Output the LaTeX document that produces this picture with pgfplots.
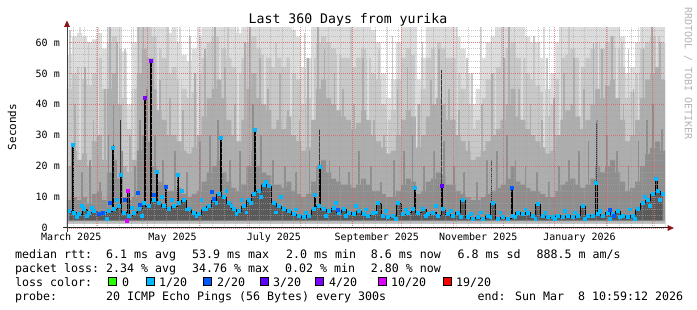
\documentclass[border=0pt]{standalone}
\usepackage{fontspec}
\setmainfont{DejaVu Sans Mono}
\usepackage{pgfplots}
\usepackage{pgfplotstable}
\pgfplotsset{compat=1.18}
\definecolor{skA}{RGB}{220,220,220}
\definecolor{skB}{RGB}{200,200,200}
\definecolor{skC}{RGB}{174,174,174}
\definecolor{skD}{RGB}{142,142,142}
\definecolor{skE}{RGB}{90,90,90}
\definecolor{skK}{RGB}{55,55,55}
\definecolor{skF}{RGB}{190,190,190}
\definecolor{l0}{HTML}{26FF00}
\definecolor{l1}{HTML}{00B8FF}
\definecolor{l2}{HTML}{0059FF}
\definecolor{l3}{HTML}{5E00FF}
\definecolor{l4}{HTML}{7E00FF}
\definecolor{l10}{HTML}{DD00FF}
\definecolor{l19}{HTML}{FF0000}
\definecolor{arr}{RGB}{140,20,20}
\definecolor{wm}{RGB}{180,180,180}

\pgfplotstableread{
x t l m d
0 56 45 20 9
3 62 50 25 10
6 63 52 22 9
9 62 48 24 10
12 60 46 20 8
15 61 50 28 11
18 63 55 30 12
21 58 45 22 9
24 65 60 45 18
27 65 62 50 22
30 65 58 40 16
33 57 42 20 10
36 40 32 18 9
39 60 45 22 10
42 65 65 50 25
45 65 65 58 30
48 65 65 55 28
51 65 62 45 20
54 65 58 38 15
57 65 55 35 14
60 63 50 30 12
63 65 52 30 12
66 60 48 28 13
69 56 45 25 11
72 54 42 24 10
75 58 44 26 11
78 62 50 30 12
81 65 55 36 15
84 65 60 42 18
87 65 62 45 20
90 65 62 48 22
93 65 58 42 18
96 65 55 35 15
99 65 52 30 13
102 63 50 28 12
105 65 55 35 14
108 65 60 45 20
111 65 62 50 25
114 65 58 42 20
117 65 56 40 18
120 65 55 38 17
123 65 52 32 14
126 65 55 35 14
129 65 52 32 13
132 65 55 36 15
135 64 50 30 12
138 62 48 28 11
141 52 40 25 10
144 55 42 26 11
147 65 55 35 15
150 65 60 45 20
153 65 62 48 22
156 65 60 42 18
159 65 58 40 16
162 65 56 38 15
165 65 55 36 14
168 65 55 35 14
171 65 52 32 13
174 65 55 34 14
177 65 58 38 16
180 65 55 35 14
183 64 50 30 12
186 60 48 28 12
189 50 40 26 11
192 42 35 24 10
195 48 38 25 10
198 60 48 30 12
201 65 55 35 14
204 65 58 38 16
207 65 56 36 15
210 48 40 26 11
213 55 45 30 12
216 65 55 36 15
219 65 58 40 16
222 65 60 42 18
225 65 58 40 17
228 65 55 35 14
231 65 55 35 14
234 62 50 30 12
237 58 45 28 11
240 50 40 25 10
243 40 32 22 9
246 45 35 23 9
249 55 42 25 10
252 60 48 28 11
255 62 50 30 12
258 65 52 32 13
261 65 55 35 14
264 65 58 40 16
267 65 60 45 20
270 65 55 36 15
273 65 55 35 14
276 62 50 32 13
279 60 48 30 12
282 60 46 28 12
285 55 44 26 11
288 45 36 24 10
291 50 40 25 10
294 60 48 30 12
297 65 55 35 14
300 65 56 38 15
303 65 58 40 16
306 65 55 36 14
309 65 52 32 13
312 65 55 35 14
315 65 58 40 16
318 65 60 45 20
321 65 58 42 18
324 65 60 46 20
327 65 62 48 22
330 65 58 42 18
333 62 52 35 15
336 50 42 28 12
339 52 44 30 13
342 60 50 35 15
345 65 58 42 20
348 65 60 48 24
351 65 62 50 26
354 65 62 52 28
357 65 60 48 25
360 65 60 48 25
}\smoke

\pgfplotstableread{
x y k
1.5 5.5 1
2.8 5.5 0
3.6 27 1
4.4 5 0
4.5 5 1
7.5 4.5 1
10.5 6 1
13.5 5 1
16.5 5.5 1
19.5 4.5 1
22.5 5 1
25.5 5.5 1
26.9 5.5 0
27.7 26 1
28.5 6 1
31.5 7 1
31.7 7 0
32.5 17 1
33.3 5 0
34.5 5 1
36.1 5 0
36.9 12 1
37.5 4 1
40.5 5 1
43.5 6 1
46.5 8 1
47.0 42 1
47.8 7 0
49.5 7 1
49.8 7 0
50.6 54 1
51.4 9 0
52.5 9 1
53.4 9 0
54.2 18 1
55.0 8 0
55.5 8 1
58.5 7 1
58.8 7 0
59.6 13.3 1
60.4 6 0
61.5 6 1
64.5 7 1
66.0 7 0
66.8 17 1
67.5 8 1
70.5 9 1
73.5 6 1
76.5 5 1
79.5 4.5 1
82.5 6 1
85.5 7 1
88.5 9 1
91.5 11 1
91.9 11 0
92.7 29 1
93.5 10 0
94.5 10 1
97.5 8 1
100.5 6 1
103.5 5.5 1
106.5 7 1
109.5 9 1
112.5 11 1
113.2 31.6 1
114.0 12 0
115.5 12 1
118.5 14 1
121.5 13.5 1
124.5 8 1
127.5 7 1
130.5 6 1
133.5 5.5 1
136.5 4.5 1
139.5 4 1
142.5 3.5 1
145.5 4 1
148.5 6 1
149.3 10.6 1
150.1 7 0
151.5 7 1
152.3 19.6 1
153.1 6 0
154.5 6 1
157.5 5.5 1
160.5 6.5 1
163.5 5 1
166.5 6 1
169.5 5 1
172.5 4.5 1
175.5 5.5 1
178.5 4.5 1
181.5 4 1
184.5 5 1
187.5 8 1
190.5 4 1
193.5 3.5 1
196.5 4 1
199.5 8 1
202.5 4.5 1
205.5 5 1
208.5 6 1
209.5 13 1
210.3 5 0
211.5 5 1
214.5 6 1
217.5 4.5 1
220.5 5 1
223.5 4 1
224.8 4 0
225.6 13.5 1
226.5 6 1
229.5 4.5 1
232.5 4 1
235.5 5 1
238.5 9 1
241.5 3.5 1
244.5 3 1
247.5 3.5 1
250.5 3 1
253.5 4 1
256.5 8 1
259.5 3 1
262.5 3.5 1
265.5 3 1
267.1 3 0
267.9 13 1
268.5 4 1
271.5 5 1
274.5 4.5 1
277.5 5 1
280.5 4 1
283.5 7.6 1
286.5 4 1
289.5 3.5 1
292.5 3.5 1
295.5 4 1
298.5 3.5 1
301.5 4 1
304.5 3.5 1
307.5 4 1
310.5 7 1
313.5 4 1
316.5 4 1
317.7 4 0
318.5 14.5 1
319.5 4.5 1
322.5 4 1
325.5 5 1
328.5 4.5 1
331.5 5.5 1
334.5 4 1
337.5 3.5 1
340.5 4 1
343.5 6 1
346.5 8 1
349.5 9 1
352.5 11 1
353.8 11 0
354.6 16 1
355.5 12 1
358.5 11 1
}\med

\begin{document}
\begin{tikzpicture}[x=1pt,y=1pt]
\useasboundingbox (0,0) rectangle (697,310);
\begin{axis}[
  at={(67pt,82pt)}, anchor=south west,
  scale only axis, width=598pt, height=201pt,
  xmin=0, xmax=360, ymin=0, ymax=65,
  axis on top,
  axis line style={draw=none},
  major tick length=0pt, minor tick length=0pt,
  xtick={18.54,48.54,79.54,109.54,140.54,171.54,201.54,232.54,262.54,293.54,324.54,352.54},
  xticklabels={},
  minor xtick={3.54,10.54,...,360},
  extra x ticks={2.54,63.54,124.54,186.54,247.54,308.54},
  extra x tick labels={March 2025,May 2025,July 2025,September 2025,November 2025,January 2026},
  extra x tick style={grid=none},
  xticklabel style={anchor=base, inner sep=0pt, yshift=-12.7pt, font=\fontsize{10}{12}\selectfont},
  ytick={0,10,20,30,40,50,60},
  yticklabels={0\hphantom{~m},10 m,20 m,30 m,40 m,50 m,60 m},
  yticklabel style={anchor=east, inner sep=0pt, xshift=-7pt, font=\fontsize{10}{12}\selectfont},
  minor ytick={2,4,...,64},
  grid=both,
  major grid style={draw={rgb,255:red,230;green,90;blue,90}, line width=0.8pt, dash pattern=on 1pt off 1pt, opacity=0.7},
  minor grid style={draw={rgb,255:red,165;green,165;blue,165}, line width=0.7pt, dash pattern=on 1pt off 1pt, opacity=0.6},
]
% lightest smoke
\addplot[const plot mark left, fill=skA, draw=none] table[x=x,y=t]{\smoke} \closedcycle;
\addplot[ycomb, draw=skB, line width=1.8pt] coordinates {
(2,64) (13,60) (35,58) (61,65) (74,62) (97,65) (126,60) (143,63) (171,65) (188,58) (196,62)
(214,60) (241,55) (244,50) (262,65) (281,62) (289,55) (302,65) (334,60) (338,58)};
\addplot[const plot mark left, fill=skB, draw=none] table[x=x,y=l]{\smoke} \closedcycle;
\addplot[ycomb, draw=skA, line width=1.8pt] coordinates {
(8,65) (19,65) (31,65) (40,65) (55,65) (68,65) (79,65) (92,65) (103,65) (119,65) (135,65)
(148,65) (163,65) (181,65) (193,65) (210,65) (222,65) (235,65) (249,65) (258,65) (274,65)
(287,65) (297,65) (309,65) (320,65) (331,65) (344,65) (355,65)};
\addplot[ycomb, draw=skC, line width=1.8pt] coordinates {
(5,40) (11,52) (16,35) (23,45) (26,65) (30,60) (38,30) (43,65) (46,65) (52,55) (56,48) (62,42)
(70,38) (77,50) (83,58) (89,65) (95,52) (101,40) (107,60) (110,65) (116,55) (121,45) (128,50)
(133,38) (140,35) (145,55) (151,65) (155,58) (161,50) (166,45) (173,40) (178,55) (185,35)
(191,30) (199,45) (205,52) (212,40) (219,48) (224,58) (230,45) (236,38) (242,28) (250,40)
(256,50) (263,55) (266,65) (272,45) (279,40) (286,35) (293,42) (299,50) (305,55) (311,45)
(317,60) (322,58) (328,62) (335,40) (341,45) (347,58) (352,65) (357,60)};
\addplot[const plot mark left, fill=skC, draw=none] table[x=x,y=m]{\smoke} \closedcycle;
\addplot[ycomb, draw=skD, line width=1.8pt] coordinates {
(3,27) (9,18) (14,22) (20,15) (25,30) (28,40) (33,25) (41,20) (44,35) (48,45) (53,30) (58,22)
(65,25) (72,18) (80,28) (86,30) (91,35) (98,22) (104,25) (112,40) (117,30) (124,22) (131,20)
(138,18) (146,25) (152,30) (158,22) (164,20) (170,18) (176,25) (183,20) (189,15) (197,22)
(203,25) (208,30) (215,20) (221,25) (227,28) (233,20) (239,18) (247,15) (253,22) (259,25)
(265,30) (270,22) (276,20) (283,18) (290,15) (296,20) (302,22) (308,25) (314,28) (319,35)
(325,30) (331,25) (338,20) (344,28) (349,35) (353,40) (358,32)};
\addplot[const plot mark left, fill=skD, draw=none] table[x=x,y=d]{\smoke} \closedcycle;
\addplot[ycomb, draw=skK, line width=1pt] coordinates {
(3.6,27) (27.7,27) (32.5,35) (92.7,29) (113.2,32) (152.3,32) (225.6,51) (255.8,22) (318.5,34)};
% core around the median
\addplot[const plot mark mid, fill=skE, draw=none] table[x=x,y=y]{\med} \closedcycle;
\addplot[const plot, fill=skF, draw=none] coordinates {(0,2.4) (360,2.4)} \closedcycle;
\addplot[const plot, fill=white, draw=none] coordinates {(0,1.3) (360,1.3)} \closedcycle;
% median
\addplot[const plot mark mid, black, line width=0.5pt] table[x=x,y=y]{\med};
\addplot[only marks, mark=square*, mark size=1.5pt, mark options={draw=l1, line width=0pt, fill=l1},
  restrict expr to domain={\thisrow{k}}{0.5:1.5}] table[x=x,y=y]{\med};
\addplot[only marks, mark=square*, mark size=1.4pt, mark options={draw=l1, line width=0pt, fill=l1}] coordinates {
(6,3.5) (9,7) (12,4) (15,6.5) (24,3) (30,9) (39,6.5) (45,4) (57,10) (63,9) (69,12) (72,6)
(78,4) (81,9) (84,6) (90,8) (96,12) (99,7) (102,4.5) (105,9) (108,5) (111,8) (117,10) (120,15)
(126,5) (129,10) (138,6) (144,5) (156,4) (162,8) (168,4) (174,7) (180,6) (186,5) (192,5.5)
(198,3) (204,6) (216,4) (222,7) (231,5.5) (237,3.5) (243,4.5) (249,5) (255,3.5) (261,5)
(270,3.5) (276,6) (282,3) (288,5) (294,3) (300,5.5) (306,5) (312,3) (321,5.5) (327,3)
(333,3.5) (339,6) (342,3) (348,10) (351,7) (357,9)};
\addplot[only marks, mark=square*, mark size=1.5pt, mark options={draw=l2, line width=0pt, fill=l2}] coordinates {
(19.3,4.5) (21.7,4.8) (25.9,8) (34.9,9) (42.8,11.3) (44,7.4) (52.4,10.7) (59.6,13.3)
(87.3,11.6) (88.5,9.4) (163,5.8) (267.9,13) (327,5.8) (329.4,3.9)};
\addplot[only marks, mark=square*, mark size=1.5pt, mark options={draw=l4, line width=0pt, fill=l4}] coordinates {(47.0,42) (50.6,54)};
\addplot[only marks, mark=square*, mark size=1.5pt, mark options={draw=l3, line width=0pt, fill=l3}] coordinates {(225.6,13.5)};
\addplot[only marks, mark=square*, mark size=1.5pt, mark options={draw=l10, line width=0pt, fill=l10}] coordinates {(36.9,12) (36.3,2.3)};
\end{axis}
% axes
\draw[black!85, line width=1pt] (63,82) -- (668,82);
\fill[arr] (674,82) -- (667.5,85) -- (667.5,79) -- cycle;
\draw[black!75, line width=1pt] (67,78) -- (67,284);
\fill[arr] (67,289.5) -- (64,283) -- (70,283) -- cycle;
% titles
\node[anchor=base, inner sep=0pt, font=\fontsize{13.2}{15}\selectfont] at (348,286) {Last 360 Days from yurika};
\node[rotate=90, inner sep=0pt, font=\fontsize{11}{13}\selectfont] at (12,183) {Seconds};
\node[rotate=-90, inner sep=0pt, text=wm, font=\fontsize{10}{12}\selectfont] at (688,236.5) {RRDTOOL / TOBI OETIKER};
% legend
\begin{scope}[every node/.style={anchor=base west, inner sep=0pt, font=\fontsize{11.63}{14}\selectfont}]
\node at (15,51.7) {median rtt:};
\node at (106,51.7) {6.1 ms avg};
\node at (192,51.7) {53.9 ms max};
\node at (286,51.7) {2.0 ms min};
\node at (370.7,51.7) {8.6 ms now};
\node at (457.3,51.7) {6.8 ms sd};
\node at (536.3,51.7) {888.5 m am/s};
\node at (15,37.7) {packet loss:};
\node at (106,37.7) {2.34 \% avg};
\node at (192,37.7) {34.76 \% max};
\node at (285,37.7) {0.02 \% min};
\node at (370.7,37.7) {2.80 \% now};
\node at (15,23.7) {loss color:};
\node at (122,23.7) {0};
\node at (159,23.7) {1/20};
\node at (217,23.7) {2/20};
\node at (273,23.7) {3/20};
\node at (329,23.7) {4/20};
\node at (391,23.7) {10/20};
\node at (456,23.7) {19/20};
\node at (15,9.7) {probe:};
\node at (106,9.7) {20 ICMP Echo Pings (56 Bytes) every 300s};
\node at (477.5,9.7) {end: Sun Mar~~8 10:59:12 2026};
\end{scope}
\begin{scope}[draw=black, line width=0.8pt]
\filldraw[fill=l0] (108.3,24.7) rectangle ++(8,8);
\filldraw[fill=l1] (146,24.7) rectangle ++(8,8);
\filldraw[fill=l2] (203,24.7) rectangle ++(8,8);
\filldraw[fill=l3] (260,24.7) rectangle ++(8,8);
\filldraw[fill=l4] (315,24.7) rectangle ++(8,8);
\filldraw[fill=l10] (378,24.7) rectangle ++(8,8);
\filldraw[fill=l19] (443,24.7) rectangle ++(8,8);
\end{scope}
\end{tikzpicture}
\end{document}
